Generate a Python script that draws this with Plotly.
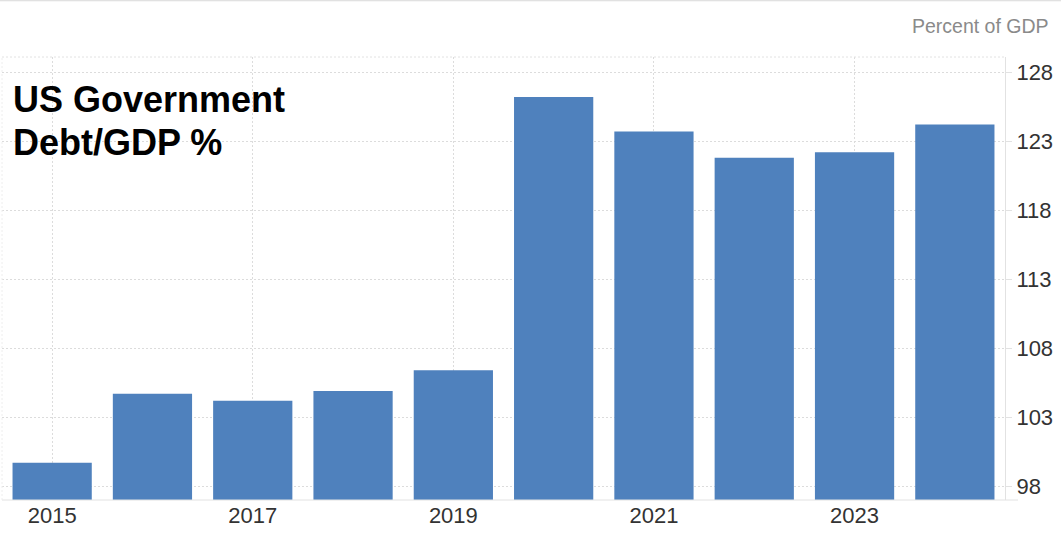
import plotly.graph_objects as go

years = [2015, 2016, 2017, 2018, 2019, 2020, 2021, 2022, 2023, 2024]
debt_gdp = [99.7, 104.7, 104.2, 104.9, 106.4, 126.2, 123.7, 121.8, 122.2, 124.2]
y_ticks = [98, 103, 108, 113, 118, 123, 128]
x_ticks = [2015, 2017, 2019, 2021, 2023]

FONT = "Liberation Sans, Arial, sans-serif"

fig = go.Figure()
fig.add_trace(go.Bar(
    x=years, y=debt_gdp,
    marker=dict(color="#4f81bd", line=dict(width=0)),
    hoverinfo="x+y",
))

fig.update_layout(
    width=1061, height=533,
    margin=dict(l=2, r=56, t=57, b=33),
    paper_bgcolor="white", plot_bgcolor="white",
    bargap=0.21,
    showlegend=False,
    font=dict(family=FONT, color="#333333"),
    xaxis=dict(
        range=[2014.5, 2024.5],
        tickmode="array", tickvals=x_ticks, ticktext=[str(v) for v in x_ticks],
        tickfont=dict(size=22, color="#333333"),
        showgrid=True, gridcolor="#dcdcdc", griddash="2px,2px", gridwidth=1,
        showline=False, zeroline=False, ticks="",
    ),
    yaxis=dict(
        range=[97, 129.1], side="right",
        tickmode="array", tickvals=y_ticks, ticktext=[str(v) for v in y_ticks],
        tickfont=dict(size=22, color="#333333"),
        showgrid=True, gridcolor="#dcdcdc", griddash="2px,2px", gridwidth=1,
        showline=True, linecolor="#e2e2e2", linewidth=1, mirror=False,
        zeroline=False, ticks="outside", ticklen=6, tickcolor="#e2e2e2",
    ),
    shapes=[
        dict(type="line", xref="paper", yref="paper", x0=0, x1=1.013, y0=0, y1=0,
             line=dict(color="#e2e2e2", width=1)),
        dict(type="line", xref="paper", yref="paper", x0=0, x1=1, y0=1, y1=1,
             line=dict(color="#e2e2e2", width=1, dash="2px,2px")),
        dict(type="line", xref="paper", yref="paper", x0=0, x1=0, y0=0, y1=1,
             line=dict(color="#eeeeee", width=1, dash="2px,2px")),
        dict(type="line", xref="paper", yref="paper", x0=-0.01, x1=1.06, y0=1.127, y1=1.127,
             line=dict(color="#d8d8d8", width=1)),
    ],
    annotations=[
        dict(text="US Government", xref="paper", yref="paper",
             x=0.009, y=0.955, xanchor="left", yanchor="top", showarrow=False,
             align="left",
             font=dict(size=36, color="black", family=FONT, weight="bold")),
        dict(text="Debt/GDP %", xref="paper", yref="paper",
             x=0.009, y=0.858, xanchor="left", yanchor="top", showarrow=False,
             align="left",
             font=dict(size=36, color="black", family=FONT, weight="bold")),
        dict(text="Percent of GDP", xref="paper", yref="paper",
             x=1.046, y=1.04, xanchor="right", yanchor="bottom", showarrow=False,
             font=dict(size=19.5, color="#8a8a8a")),
    ],
)

fig.write_html("out.html", config={"displayModeBar": False})

with open("out.html", "r", encoding="utf-8") as f:
    html = f.read()
html = html.replace("<head>", "<head><style>html,body{margin:0;padding:0;overflow:hidden;}</style>", 1)
with open("out.html", "w", encoding="utf-8") as f:
    f.write(html)
